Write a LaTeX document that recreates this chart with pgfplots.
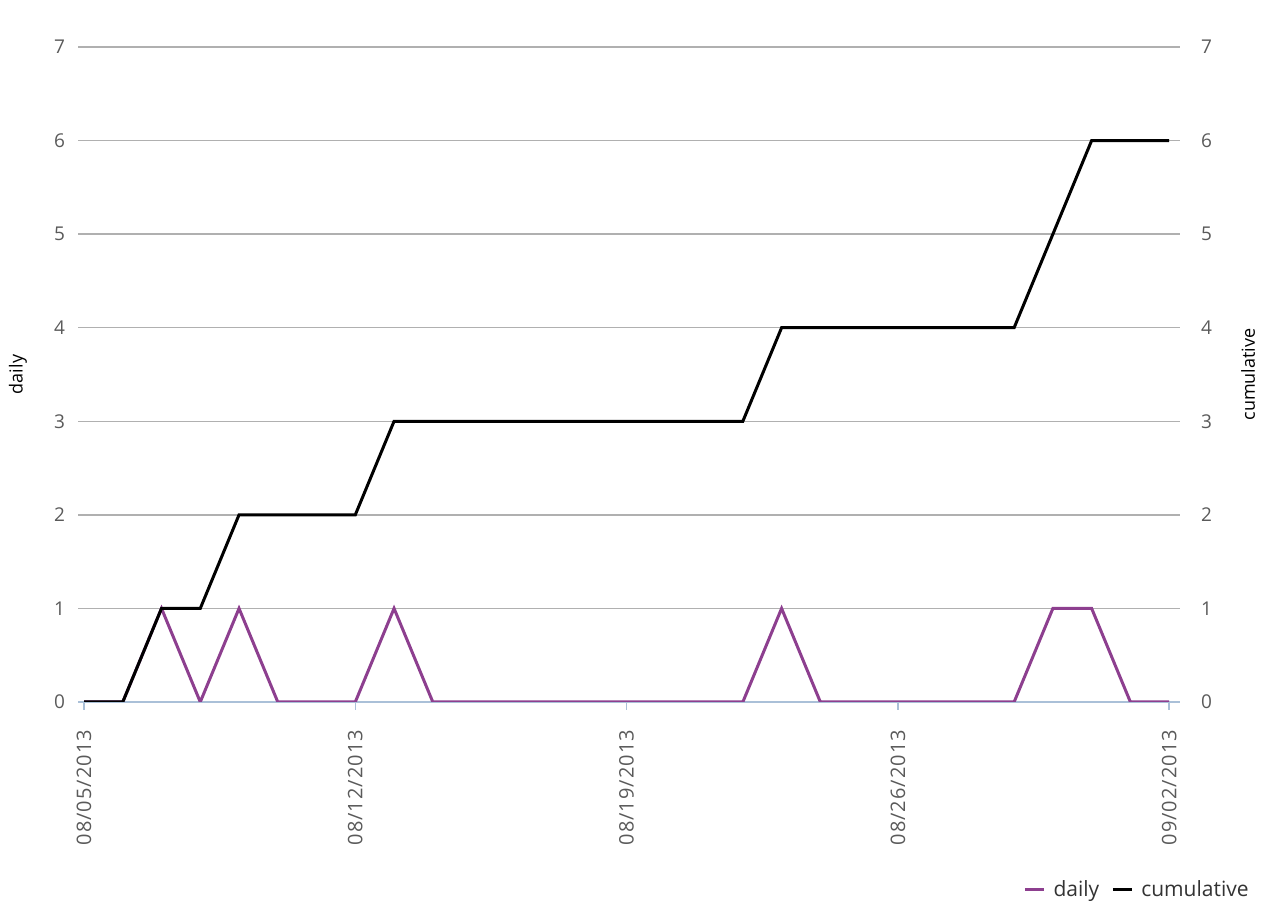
\documentclass[border=0pt]{standalone}
\usepackage{pgfplots}
\pgfplotsset{compat=1.18}
\usepackage{fontspec}
\setmainfont{Open Sans}
\definecolor{dailyc}{RGB}{141,63,143}
\definecolor{gridc}{RGB}{176,176,176}
\definecolor{axisc}{RGB}{170,192,216}
\definecolor{txtc}{RGB}{90,90,90}
\begin{document}
\begin{tikzpicture}
\path[use as bounding box] (0,0) rectangle (632pt,459.5pt);
\pgfplotsset{
  base/.style={
    at={(39pt,108.5pt)}, anchor=south west, scale only axis,
    width=551pt, height=327.5pt,
    xmin=-0.155, xmax=28.28, ymin=0, ymax=7,
    ytick={0,1,...,7},
    /pgf/number format/assume math mode=true,
    tick label style={font=\fontsize{9.5}{11}\selectfont, text=txtc},
    label style={font=\fontsize{9}{11}\selectfont, text=black},
  }
}
\begin{axis}[base,
  axis lines*=left,
  y axis line style={draw=none},
  x axis line style={color=axisc, line width=0.75pt},
  xtick={0,7,14,21,28},
  xticklabels={08/05/2013,08/12/2013,08/19/2013,08/26/2013,09/02/2013},
  xticklabel style={rotate=90, anchor=east, xshift=-6.5pt,
    font=\fontsize{10}{12}\selectfont\addfontfeatures{LetterSpace=5}},
  xtick style={color=axisc, line width=0.75pt},
  tick align=outside, major tick length=4pt,
  ytick style={draw=none},
  yticklabel style={xshift=1pt},
  ymajorgrids, grid style={color=gridc, line width=0.75pt},
  ylabel={daily},
  ylabel style={at={(axis description cs:-0.0544,0.5)}, anchor=center},
]
\addplot[color=dailyc, line width=1.5pt] coordinates {
(0,0)(1,0)(2,1)(3,0)(4,1)(5,0)(6,0)(7,0)(8,1)(9,0)(10,0)(11,0)(12,0)(13,0)(14,0)
(15,0)(16,0)(17,0)(18,1)(19,0)(20,0)(21,0)(22,0)(23,0)(24,0)(25,1)(26,1)(27,0)(28,0)};
\end{axis}
\begin{axis}[base,
  axis x line=none,
  axis y line*=right,
  y axis line style={draw=none},
  ytick style={draw=none},
  yticklabel style={xshift=7pt},
  ylabel={cumulative},
  ylabel style={at={(axis description cs:1.0617,0.5)}, anchor=center, rotate=0},
  legend columns=2,
  legend style={draw=none, fill=none, at={(axis description cs:1.0717,-0.287)}, anchor=east,
    font=\fontsize{10.5}{12}\selectfont, text=black!80,
    /tikz/every odd column/.append style={column sep=2pt},
    /tikz/every even column/.append style={column sep=4pt}},
  legend image code/.code={\draw[#1, line width=1.5pt] (0pt,0pt) -- (9.5pt,0pt);},
]
\addlegendimage{color=dailyc}
\addlegendentry{daily}
\addplot[color=black, line width=1.5pt] coordinates {
(0,0)(1,0)(2,1)(3,1)(4,2)(5,2)(6,2)(7,2)(8,3)(9,3)(10,3)(11,3)(12,3)(13,3)(14,3)
(15,3)(16,3)(17,3)(18,4)(19,4)(20,4)(21,4)(22,4)(23,4)(24,4)(25,5)(26,6)(27,6)(28,6)};
\addlegendentry{cumulative}
\end{axis}
\end{tikzpicture}
\end{document}
